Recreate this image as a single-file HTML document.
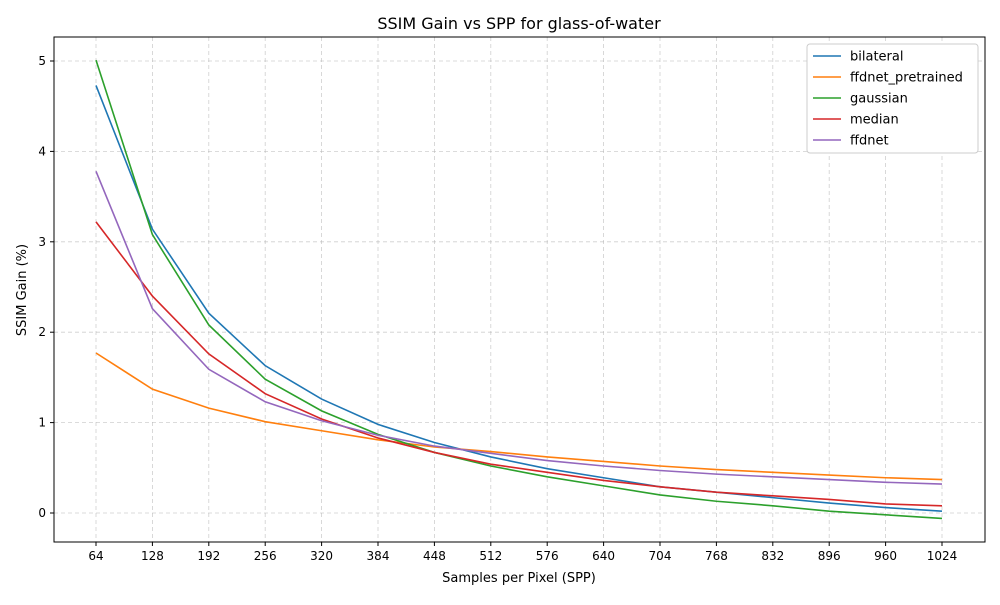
<!DOCTYPE html>
<html><head><meta charset="utf-8"><style>
body{margin:0;background:#fff;font-family:"Liberation Sans","DejaVu Sans",sans-serif;}
svg text{font-family:"DejaVu Sans","Liberation Sans",sans-serif;}
</style></head><body>
<svg id="chart" width="1000" height="600" xmlns="http://www.w3.org/2000/svg">
<rect width="1000" height="600" fill="#fff"/>
<text x="519" y="29" text-anchor="middle" font-size="16" fill="#000">SSIM Gain vs SPP for glass-of-water</text>
<g id="grid"></g><g id="axes"></g><g id="series"></g><g id="legend"></g>
<text x="519" y="582" text-anchor="middle" font-size="13">Samples per Pixel (SPP)</text>
<text x="26" y="290" text-anchor="middle" font-size="13" transform="rotate(-90 26 290)">SSIM Gain (%)</text>
</svg>
<script>
const spp=[64,128,192,256,320,384,448,512,576,640,704,768,832,896,960,1024];
const seriesNames=["bilateral","ffdnet_pretrained","gaussian","median","ffdnet"];
const colors=["#1f77b4","#ff7f0e","#2ca02c","#d62728","#9467bd"];
const bilateral=[4.73,3.14,2.21,1.63,1.26,0.98,0.78,0.62,0.49,0.39,0.29,0.23,0.17,0.11,0.06,0.02];
const ffdnetPretrained=[1.77,1.37,1.16,1.01,0.91,0.81,0.73,0.68,0.62,0.57,0.52,0.48,0.45,0.42,0.39,0.37];
const gaussian=[5.01,3.08,2.08,1.48,1.13,0.87,0.67,0.52,0.40,0.30,0.20,0.13,0.08,0.02,-0.02,-0.06];
const median=[3.22,2.40,1.76,1.32,1.04,0.83,0.67,0.54,0.45,0.36,0.29,0.23,0.19,0.15,0.10,0.08];
const ffdnet=[3.78,2.26,1.59,1.23,1.02,0.86,0.74,0.66,0.58,0.52,0.47,0.43,0.40,0.37,0.34,0.32];
const yTicks=[0,1,2,3,4,5];
const NS="http://www.w3.org/2000/svg";
const L=54,R=985,T=37,B=542;
const xs=v=>96+(v-64)*(942-96)/960;
const ys=v=>513-v*90.4;
function mk(t,a,p){const e=document.createElementNS(NS,t);for(const k in a)e.setAttribute(k,a[k]);p.appendChild(e);return e;}
const grid=document.getElementById('grid'),axes=document.getElementById('axes'),ser=document.getElementById('series'),leg=document.getElementById('legend');
spp.forEach(v=>{
 const g=mk('line',{x1:xs(v),x2:xs(v),y1:T,y2:B,stroke:'#b0b0b0','stroke-width':0.8,'stroke-dasharray':'4,3',opacity:0.6},grid);
 
 mk('line',{x1:xs(v),x2:xs(v),y1:B,y2:B+4,stroke:'#000'},axes);
 const t=mk('text',{x:xs(v),y:B+18,'text-anchor':'middle','font-size':12},axes);t.textContent=v;
 
});
yTicks.forEach(v=>{
 const g=mk('line',{x1:L,x2:R,y1:ys(v),y2:ys(v),stroke:'#b0b0b0','stroke-width':0.8,'stroke-dasharray':'4,3',opacity:0.6},grid);
 
 mk('line',{x1:L-4,x2:L,y1:ys(v),y2:ys(v),stroke:'#000'},axes);
 const t=mk('text',{x:L-8,y:ys(v)+4,'text-anchor':'end','font-size':12},axes);t.textContent=v;
 
});
const frame=mk('rect',{x:L,y:T,width:R-L,height:B-T,fill:'none',stroke:'#000','stroke-width':1},axes);

const data=[bilateral,ffdnetPretrained,gaussian,median,ffdnet];
data.forEach((d,i)=>{
 const p=mk('polyline',{points:d.map((v,j)=>xs(spp[j])+','+ys(v)).join(' '),fill:'none',stroke:colors[i],'stroke-width':1.6},ser);
 
});
const lb=mk('rect',{x:807,y:44,width:171,height:109,fill:'#fff',stroke:'#ccc',rx:3},leg);

seriesNames.forEach((n,i)=>{
 const y=56+i*21;
 const l=mk('line',{x1:813,x2:841,y1:y,y2:y,stroke:colors[i],'stroke-width':1.6},leg);
 
 const t=mk('text',{x:850,y:y+4.5,'font-size':13},leg);t.textContent=n;
 
});
</script>
</body></html>
